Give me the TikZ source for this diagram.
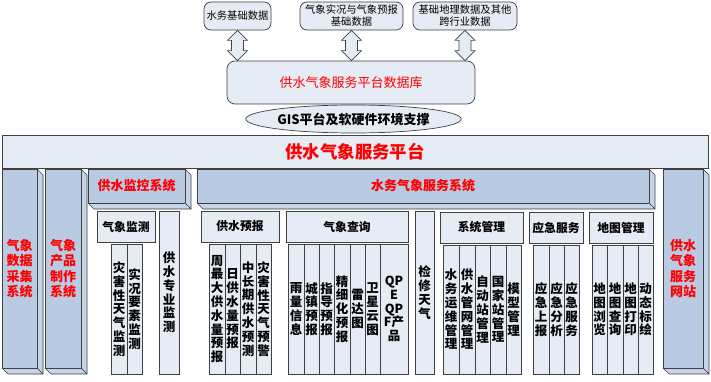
\documentclass[tikz,border=0pt]{standalone}
\usepackage{fontspec}
\setmainfont{Noto Sans CJK SC}
\usetikzlibrary{shapes.geometric,calc}
\definecolor{lightf}{RGB}{230,236,246}
\definecolor{darkf}{RGB}{185,202,227}
\definecolor{sidef}{RGB}{198,212,234}
\definecolor{bordc}{RGB}{64,64,64}
\definecolor{redt}{RGB}{255,0,0}
\tikzset{
  lbox/.style={draw=bordc, fill=lightf, line width=0.7pt, inner sep=0pt, align=center},
  pil/.style={lbox, font=\fontsize{12.5}{13.8}\selectfont\bfseries},
  hdr/.style={lbox, font=\fontsize{11.8}{14}\selectfont\bfseries},
  threef/.style={draw=bordc, fill=darkf, line width=0.7pt, inner sep=0pt, align=center, text=redt, font=\fontsize{13}{15.3}\selectfont\bfseries},
  facef/.style={draw=bordc, fill=sidef, line width=0.6pt, line join=round},
  topb/.style={lbox, rounded corners=7pt, font=\fontsize{10.3}{12}\selectfont},
  arr/.style={draw=bordc, fill=lightf, line width=0.6pt, line join=miter},
}
\newcommand\mkrect[7]{%
  \node[#1, minimum width={#5pt-#3pt}, minimum height={#6pt-#4pt}] (#2) at ({(#3+#5)/2},{(#4+#6)/2}) {#7};}
\newcommand\mkthree[6]{%
  \draw[facef] (#4,#3) -- ({#4+6},{#3+6}) -- ({#4+6},{#5+6}) -- (#4,#5) -- cycle;
  \draw[facef] (#2,#5) -- (#4,#5) -- ({#4+6},{#5+6}) -- ({#2+6},{#5+6}) -- cycle;
  \mkrect{threef}{#1}{#2}{#3}{#4}{#5}{#6}}
\newcommand\mkarrow[2]{%
  \draw[arr] (#1.south) -- ++(10pt,-10pt) -- ++(-4pt,0pt)
    -- ($(#1.south |- #2.north)+(6pt,10pt)$) -- ++(4pt,0pt)
    -- (#1.south |- #2.north) -- ++(-10pt,10pt) -- ++(4pt,0pt)
    -- ($(#1.south)+(-6pt,-10pt)$) -- ++(-4pt,0pt) -- cycle;}
\begin{document}
\begin{tikzpicture}[x=1pt,y=-1pt]
\useasboundingbox (0,0) rectangle (711,382);
% top data sources
\mkrect{topb}{t1}{204}{2}{271}{30}{水务基础数据}
\mkrect{topb}{t2}{300}{2}{403}{30}{气象实况与气象预报\\基础数据}
\mkrect{topb}{t3}{413}{2}{517}{30}{基础地理数据及其他\\跨行业数据}
% database
\mkrect{lbox,rounded corners=8pt,text=redt,font=\fontsize{13}{15}\selectfont}{db}{227}{61}{475}{104}{供水气象服务平台数据库}
\mkarrow{t1}{db}
\mkarrow{t2}{db}
\mkarrow{t3}{db}
% GIS ellipse
\node[ellipse, draw=bordc, fill=lightf, line width=0.7pt, inner sep=0pt, minimum width=203pt, minimum height=28pt, font=\fontsize{13}{15}\selectfont\bfseries] (gis) at (353.5,119) {GIS平台及软硬件环境支撑};
% platform bar
\mkrect{lbox,text=redt,font=\fontsize{17.4}{20}\selectfont\bfseries}{plat}{2}{135}{708}{168}{供水气象服务平台}
% 3D systems
\mkthree{s1}{2}{169}{37}{368}{气象\\数据\\采集\\系统}
\mkthree{s2}{45}{169}{81}{368}{气象\\产品\\制作\\系统}
\mkthree{s3}{88}{169}{185}{203}{供水监控系统}
\mkthree{s4}{197}{169}{649}{203}{水务气象服务系统}
\mkthree{s5}{663}{169}{703}{368}{供水\\气象\\服务\\网站}
% 供水监控系统
\mkrect{hdr}{b1}{97}{211}{155}{242}{气象监测}
\mkrect{pil}{p11}{111}{244}{127}{374}{灾\\害\\性\\天\\气\\监\\测}
\mkrect{pil}{p12}{127}{244}{142}{374}{实\\况\\要\\素\\监\\测}
\mkrect{pil}{b2}{159}{211}{179}{374}{供\\水\\专\\业\\监\\测}
% 供水预报
\mkrect{hdr}{b3}{201}{211}{279}{242}{供水预报}
\mkrect{pil}{p31}{209}{244}{225}{374}{周\\最\\大\\供\\水\\量\\预\\报}
\mkrect{pil}{p32}{225}{244}{240}{374}{日\\供\\水\\量\\预\\报}
\mkrect{pil}{p33}{240}{244}{256}{374}{中\\长\\期\\供\\水\\预\\测}
\mkrect{pil}{p34}{256}{244}{271}{374}{灾\\害\\性\\天\\气\\预\\警}
% 气象查询
\mkrect{hdr}{b4}{286}{211}{408}{242}{气象查询}
\mkrect{pil}{p41}{288}{244}{304}{374}{雨\\量\\信\\息}
\mkrect{pil}{p42}{304}{244}{319}{374}{城\\镇\\预\\报}
\mkrect{pil}{p43}{319}{244}{334}{374}{指\\导\\预\\报}
\mkrect{pil}{p44}{334}{244}{350}{374}{精\\细\\化\\预\\报}
\mkrect{pil}{p45}{350}{244}{365}{374}{雷\\达\\图}
\mkrect{pil}{p46}{365}{244}{380}{374}{卫\\星\\云\\图}
\mkrect{pil}{p47}{380}{244}{408}{374}{QP\\E\\QP\\F产\\品}
% 检修天气
\mkrect{pil}{b8}{415}{211}{434}{374}{检\\修\\天\\气}
% 系统管理
\mkrect{hdr}{b5}{440}{212}{523}{243}{系统管理}
\mkrect{pil}{p51}{443}{245}{459}{374}{水\\务\\运\\维\\管\\理}
\mkrect{pil}{p52}{459}{245}{475}{374}{供\\水\\管\\网\\管\\理}
\mkrect{pil}{p53}{475}{245}{490}{374}{自\\动\\站\\管\\理}
\mkrect{pil}{p54}{490}{245}{506}{374}{国\\家\\站\\管\\理}
\mkrect{pil}{p55}{506}{245}{521}{374}{模\\型\\管\\理}
% 应急服务
\mkrect{hdr}{b6}{529}{212}{583}{243}{应急服务}
\mkrect{pil}{p61}{533}{245}{549}{374}{应\\急\\上\\报}
\mkrect{pil}{p62}{549}{245}{564}{374}{应\\急\\分\\析}
\mkrect{pil}{p63}{564}{245}{579}{374}{应\\急\\服\\务}
% 地图管理
\mkrect{hdr}{b7}{589}{212}{653}{243}{地图管理}
\mkrect{pil}{p71}{592}{245}{607}{374}{地\\图\\浏\\览}
\mkrect{pil}{p72}{607}{245}{623}{374}{地\\图\\查\\询}
\mkrect{pil}{p73}{623}{245}{638}{374}{地\\图\\打\\印}
\mkrect{pil}{p74}{638}{245}{653}{374}{动\\态\\标\\绘}
\end{tikzpicture}
\end{document}
